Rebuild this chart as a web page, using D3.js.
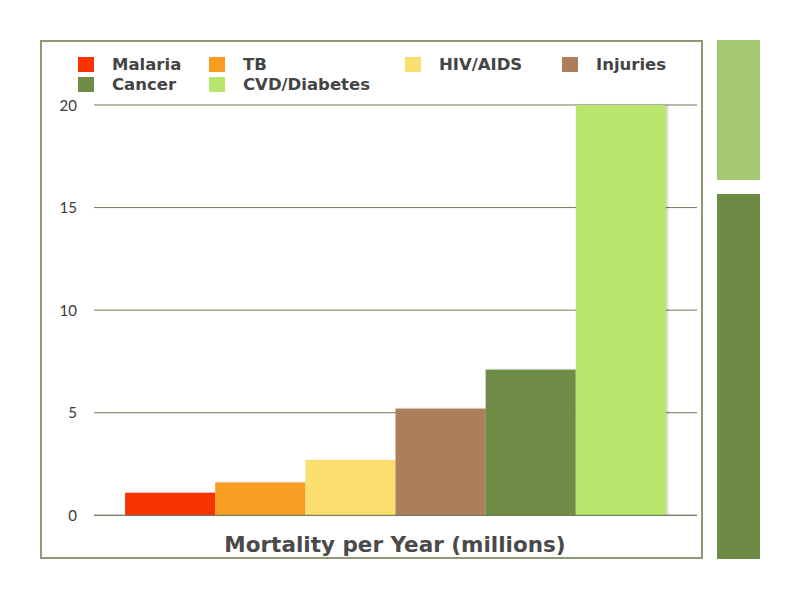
<!DOCTYPE html>
<html><head><meta charset="utf-8">
<script src="https://cdn.jsdelivr.net/npm/d3@7"></script>
<style>body{margin:0;background:#fff;} svg{display:block;}</style>
</head><body>
<svg id="c" width="800" height="600"></svg>
<script>
const categories = ["Malaria","TB","HIV/AIDS","Injuries","Cancer","CVD/Diabetes"];
const values = [1.1, 1.6, 2.7, 5.2, 7.1, 20];
const colors = ["#f83200","#f89c22","#fbdf6e","#ad7e5a","#6e8c45","#b8e56c"];
const yTicks = [0,5,10,15,20];
const title = "Mortality per Year (millions)";

const svg = d3.select("#c");
const font = "Lato, 'Open Sans', sans-serif";
const boldFont = "'DejaVu Sans', sans-serif";

// decorative side blocks
svg.append("rect").attr("x",717).attr("y",40).attr("width",43).attr("height",140).attr("fill","#a3c86f");
svg.append("rect").attr("x",717).attr("y",194).attr("width",43).attr("height",365).attr("fill","#6e8b46");

// frame
svg.append("rect").attr("x",41).attr("y",41).attr("width",661).attr("height",517)
  .attr("fill","#fff").attr("stroke","#8e9a76").attr("stroke-width",2);

const x = d3.scaleBand().domain(categories).range([94,697]).paddingInner(0).paddingOuter(0.345);
const y = d3.scaleLinear().domain([0,20]).range([515.3,105]);

// gridlines
svg.append("g").selectAll("line").data(yTicks).join("line")
  .attr("x1",94).attr("x2",697).attr("y1",d=>y(d)).attr("y2",d=>y(d))
  .attr("stroke","#6f7a5a").attr("stroke-width",1);

// y axis labels
const yAxis = d3.axisLeft(y).tickValues(yTicks).tickSize(0).tickPadding(0);
const ga = svg.append("g").attr("transform","translate(77,0)").call(yAxis);
ga.select(".domain").remove();
ga.selectAll("text").attr("font-family",font).attr("font-size",15).attr("fill","#3a3a3a").attr("dy","0.35em");

// bars with subtle shadow
const defs = svg.append("defs");
const f = defs.append("filter").attr("id","sh").attr("x","-10%").attr("y","-10%").attr("width","130%").attr("height","120%");
f.append("feDropShadow").attr("dx",2).attr("dy",0).attr("stdDeviation",1.2).attr("flood-color","#000").attr("flood-opacity",0.18);

svg.append("g").selectAll("rect").data(categories).join("rect")
  .attr("x",d=>x(d)).attr("width",x.bandwidth())
  .attr("y",(d,i)=>y(values[i])).attr("height",(d,i)=>y(0)-y(values[i]))
  .attr("fill",(d,i)=>colors[i]).attr("filter","url(#sh)");

// baseline redraw
svg.append("line").attr("x1",94).attr("x2",697).attr("y1",y(0)).attr("y2",y(0)).attr("stroke","#6f7a5a");

// legend
const legPos = [[78,57],[209,57],[405,57],[562,57],[78,77],[209,77]];
const lg = svg.append("g");
categories.forEach((c,i)=>{
  const [lx,ly] = legPos[i];
  lg.append("rect").attr("x",lx).attr("y",ly).attr("width",16).attr("height",15).attr("fill",colors[i]);
  lg.append("text").attr("x",lx+34).attr("y",ly+12.5).text(c)
    .attr("font-family",boldFont).attr("font-weight","bold").attr("font-size",16.5).attr("fill","#444");
});

// title
svg.append("text").attr("x",395).attr("y",552).attr("text-anchor","middle").text(title)
  .attr("font-family",boldFont).attr("font-weight","bold").attr("font-size",21.5).attr("fill","#4a4a4a");
</script>
</body></html>
